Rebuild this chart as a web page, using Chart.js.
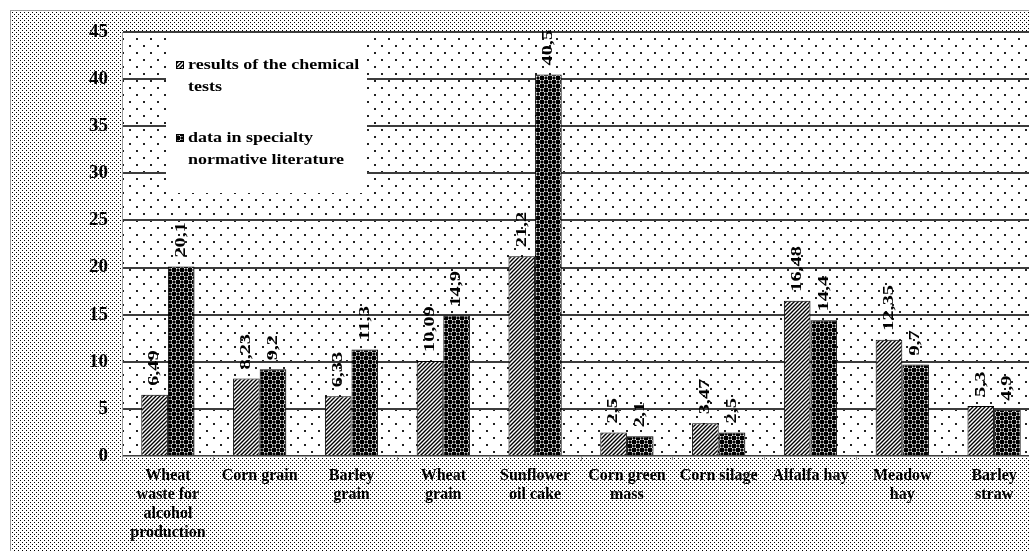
<!DOCTYPE html>
<html>
<head>
<meta charset="utf-8">
<script src="https://cdn.jsdelivr.net/npm/chart.js"></script>
<style>
	html, body { margin:0; padding:0; background:#fff; overflow:hidden; }
	canvas { display:block; }
</style>
</head>
<body>
<canvas id="chart" width="1040" height="551"></canvas>
<script>
// values
var categories = [
	['Wheat','waste for','alcohol','production'],
	['Corn grain'],
	['Barley','grain'],
	['Wheat','grain'],
	['Sunflower','oil cake'],
	['Corn green','mass'],
	['Corn silage'],
	['Alfalfa hay'],
	['Meadow','hay'],
	['Barley','straw']
];
var chemical_tests = [6.49, 8.23, 6.33, 10.09, 21.2, 2.5, 3.47, 16.48, 12.35, 5.3];
var literature = [20.1, 9.2, 11.3, 14.9, 40.5, 2.1, 2.5, 14.4, 9.7, 4.9];
var legend_lines = [
	['results of the chemical', 'tests'],
	['data in specialty', 'normative literature']
];

var SERIF = '"Liberation Serif", "DejaVu Serif", serif';

function tile(w, h, draw) {
	var c = document.createElement('canvas');
	c.width = w; c.height = h;
	draw(c.getContext('2d'));
	return document.createElement('canvas').getContext('2d').createPattern(c, 'repeat');
}

var stripes = tile(4, 4, function(g){
	g.fillStyle = '#fff'; g.fillRect(0,0,4,4);
	g.strokeStyle = '#000'; g.lineWidth = 1.4;
	g.beginPath();
	g.moveTo(-1,5); g.lineTo(5,-1);
	g.moveTo(-1,1); g.lineTo(1,-1);
	g.moveTo(3,5); g.lineTo(5,3);
	g.stroke();
});

var balls = tile(8, 8, function(g){
	g.fillStyle = '#fff'; g.fillRect(0,0,8,8);
	g.fillStyle = '#000';
	g.fillRect(0,0,4,4); g.fillRect(4,4,4,4);
	g.beginPath(); g.arc(6,2,1.7,0,Math.PI*2); g.fill();
	g.beginPath(); g.arc(2,6,1.7,0,Math.PI*2); g.fill();
});

var denseDots = tile(4, 4, function(g){
	g.fillStyle = '#fff'; g.fillRect(0,0,4,4);
	g.fillStyle = '#000';
	g.fillRect(0,0,1,1); g.fillRect(2,2,1,1);
});

var sparseDots = tile(14, 14, function(g){
	g.fillStyle = '#fff'; g.fillRect(0,0,14,14);
	g.fillStyle = '#222';
	g.fillRect(3,3,2,2); g.fillRect(10,10,2,2);
});

var backdrop = {
	id:'backdrop',
	beforeDraw:function(chart){
		var ctx = chart.ctx, a = chart.chartArea;
		ctx.save();
		ctx.fillStyle = '#fff';
		ctx.fillRect(0,0,chart.width,chart.height);
		ctx.fillStyle = denseDots;
		ctx.fillRect(10,10,chart.width-10,chart.height-10);
		ctx.strokeStyle = '#999'; ctx.lineWidth = 1;
		ctx.strokeRect(10.5,10.5,chart.width,chart.height);
		ctx.fillStyle = sparseDots;
		ctx.fillRect(a.left,a.top,a.right-a.left,a.bottom-a.top);
		ctx.restore();
	}
};

var valueLabels = {
	id:'valueLabels',
	afterDatasetsDraw:function(chart){
		var ctx = chart.ctx;
		ctx.save();
		ctx.fillStyle = '#000';
		ctx.font = 'bold 15px ' + SERIF;
		ctx.textAlign = 'left';
		ctx.textBaseline = 'middle';
		chart.data.datasets.forEach(function(ds, i){
			chart.getDatasetMeta(i).data.forEach(function(el, j){
				var txt = String(ds.data[j]).replace('.', ',');
				ctx.save();
				ctx.translate(el.x, el.y - 9);
				ctx.rotate(-Math.PI/2);
				ctx.scale(1.35, 1);
				ctx.fillText(txt, 0, 0);
				ctx.restore();
			});
		});
		ctx.restore();
	}
};

var boxLegend = {
	id:'boxLegend',
	afterDatasetsDraw:function(chart){
		var ctx = chart.ctx;
		ctx.save();
		ctx.fillStyle = '#fff';
		ctx.fillRect(166, 33, 201, 160);
		ctx.font = 'bold 15px ' + SERIF;
		ctx.textBaseline = 'middle';
		ctx.textAlign = 'left';
		var rows = [65, 138];
		chart.data.datasets.forEach(function(ds, i){
			var y = rows[i];
			ctx.fillStyle = ds.backgroundColor;
			ctx.fillRect(176, y - 4, 8, 8);
			ctx.strokeStyle = '#000'; ctx.lineWidth = 1;
			ctx.strokeRect(176.5, y - 3.5, 7, 7);
			ctx.fillStyle = '#000';
			legend_lines[i].forEach(function(line, k){
				ctx.save();
				ctx.translate(188, y + k * 22);
				ctx.scale(1.2, 1);
				ctx.fillText(line, 0, 0);
				ctx.restore();
			});
		});
		ctx.restore();
	}
};

var chart = new Chart(document.getElementById('chart'), {
	type:'bar',
	data:{
		labels:categories,
		datasets:[{
			label:legend_lines[0].join(' '),
			data:chemical_tests,
			backgroundColor:stripes,
			borderColor:'#000',
			borderWidth:1,
			categoryPercentage:0.58,
			barPercentage:1.0
		},
		{
			label:legend_lines[1].join(' '),
			data:literature,
			backgroundColor:balls,
			borderColor:'#000',
			borderWidth:1,
			categoryPercentage:0.58,
			barPercentage:1.0
		}]
	},
	options:{
		responsive:false,
		animation:false,
		layout:{padding:{left:0, right:0, top:32, bottom:0}},
		plugins:{
			legend:{display:false},
			tooltip:{enabled:false}
		},
		scales:{
			y:{
				min:0,
				max:45,
				ticks:{stepSize:5, color:'#000', padding:14, font:{family:SERIF, size:19, weight:'bold'}},
				grid:{color:'#3c3c3c', lineWidth:2, drawTicks:false},
				border:{display:true, color:'#999', width:1},
				afterFit:function(s){ s.width = 122; }
			},
			x:{
				ticks:{color:'#000', autoSkip:false, maxRotation:0, minRotation:0, padding:5,
					font:{family:SERIF, size:16, weight:'bold', lineHeight:1.2}},
				grid:{offset:true, drawOnChartArea:false, tickLength:5, color:'#999'},
				border:{display:true, color:'#999', width:1},
				afterFit:function(s){ s.height = 95; }
			}
		}
	},
	plugins:[backdrop, valueLabels, boxLegend]
});
</script>
</body>
</html>
